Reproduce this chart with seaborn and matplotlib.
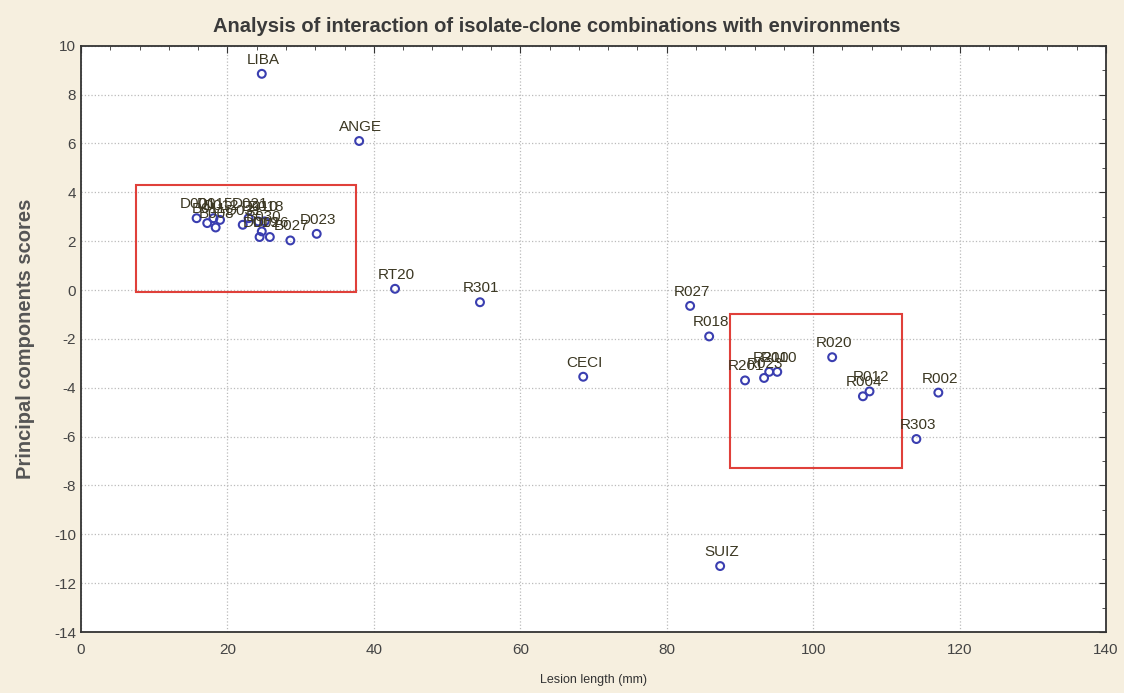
import pandas as pd
import matplotlib
matplotlib.use("Agg")
import matplotlib.pyplot as plt
import seaborn as sns
from matplotlib.patches import Rectangle
from matplotlib.ticker import MultipleLocator

# Data
names = ["LIBA", "ANGE", "RT20", "R301", "CECI", "R027", "R018", "SUIZ",
         "R020", "R002", "R303", "R012", "R004", "R201", "R023", "R210", "R010",
         "D001", "B011", "D015", "B008", "D012", "D031", "D021", "D010",
         "B030", "D019", "D018", "D026", "B027", "D023"]
lesion = [24.7, 38.0, 42.9, 54.5, 68.6, 83.2, 85.8, 87.3,
          102.6, 117.1, 114.1, 107.7, 106.8, 90.7, 93.3, 94.0, 95.1,
          15.8, 17.25, 18.1, 18.4, 19.0, 22.1, 22.9, 24.2,
          24.7, 24.4, 25.1, 25.8, 28.6, 32.2]
pc_score = [8.85, 6.1, 0.05, -0.5, -3.55, -0.65, -1.9, -11.3,
            -2.75, -4.2, -6.1, -4.15, -4.35, -3.7, -3.6, -3.35, -3.35,
            2.94, 2.74, 2.94, 2.56, 2.87, 2.67, 2.94, 2.81,
            2.40, 2.17, 2.81, 2.17, 2.03, 2.30]

# Highlight boxes (x0, y0, x1, y1)
boxes = [(7.5, -0.1, 37.6, 4.3), (88.7, -7.3, 112.2, -1.0)]

df = pd.DataFrame({"Lesion length (mm)": lesion, "Principal components scores": pc_score, "name": names})

sns.set_style("white")
plt.rcParams['font.family'] = ['Liberation Sans', 'DejaVu Sans']
plt.rcParams['axes.unicode_minus'] = False

bg = "#f6efdf"
fig = plt.figure(figsize=(11.24, 6.93), dpi=100, facecolor=bg)
ax = fig.add_axes([0.072, 0.088, 0.912, 0.846])
ax.set_facecolor("white")

sns.scatterplot(data=df, x="Lesion length (mm)", y="Principal components scores", ax=ax,
                marker="o", s=32, facecolor="none", edgecolor="#3a3eb0", linewidth=1.5, zorder=3)

for _, row in df.iterrows():
    ax.annotate(row["name"], (row["Lesion length (mm)"], row["Principal components scores"]),
                xytext=(1, 5), textcoords="offset points", ha="center", va="bottom",
                fontsize=11, color="#3b3722", zorder=4)

for x0, y0, x1, y1 in boxes:
    ax.add_patch(Rectangle((x0, y0), x1 - x0, y1 - y0, fill=False, edgecolor="#e0403a", linewidth=1.5, zorder=2))

ax.set_xlim(0, 140)
ax.set_ylim(-14, 10)
ax.xaxis.set_major_locator(MultipleLocator(20))
ax.xaxis.set_minor_locator(MultipleLocator(4))
ax.yaxis.set_major_locator(MultipleLocator(2))
ax.yaxis.set_minor_locator(MultipleLocator(1))
ax.tick_params(which="both", direction="in", top=True, right=True, colors="#333333", labelcolor="#444444", labelsize=11)
ax.tick_params(which="major", length=5)
ax.tick_params(which="minor", length=3)
ax.tick_params(axis="x", pad=8)
ax.grid(True, which="major", linestyle=":", color="#bbbbbb", linewidth=0.9)
for sp in ax.spines.values():
    sp.set_color("#333333")
    sp.set_linewidth(1.3)

ax.set_xlabel("Lesion length (mm)", fontsize=9, color="#333333", labelpad=12)
ax.set_ylabel("Principal components scores", fontsize=14.5, fontweight="bold", color="#555555", labelpad=14)
fig.text(0.495, 0.962, "Analysis of interaction of isolate-clone combinations with environments",
         fontsize=14.5, fontweight="bold", color="#3a3a3a", ha="center", va="center")

fig.savefig("out.png", dpi=100, facecolor=bg)
